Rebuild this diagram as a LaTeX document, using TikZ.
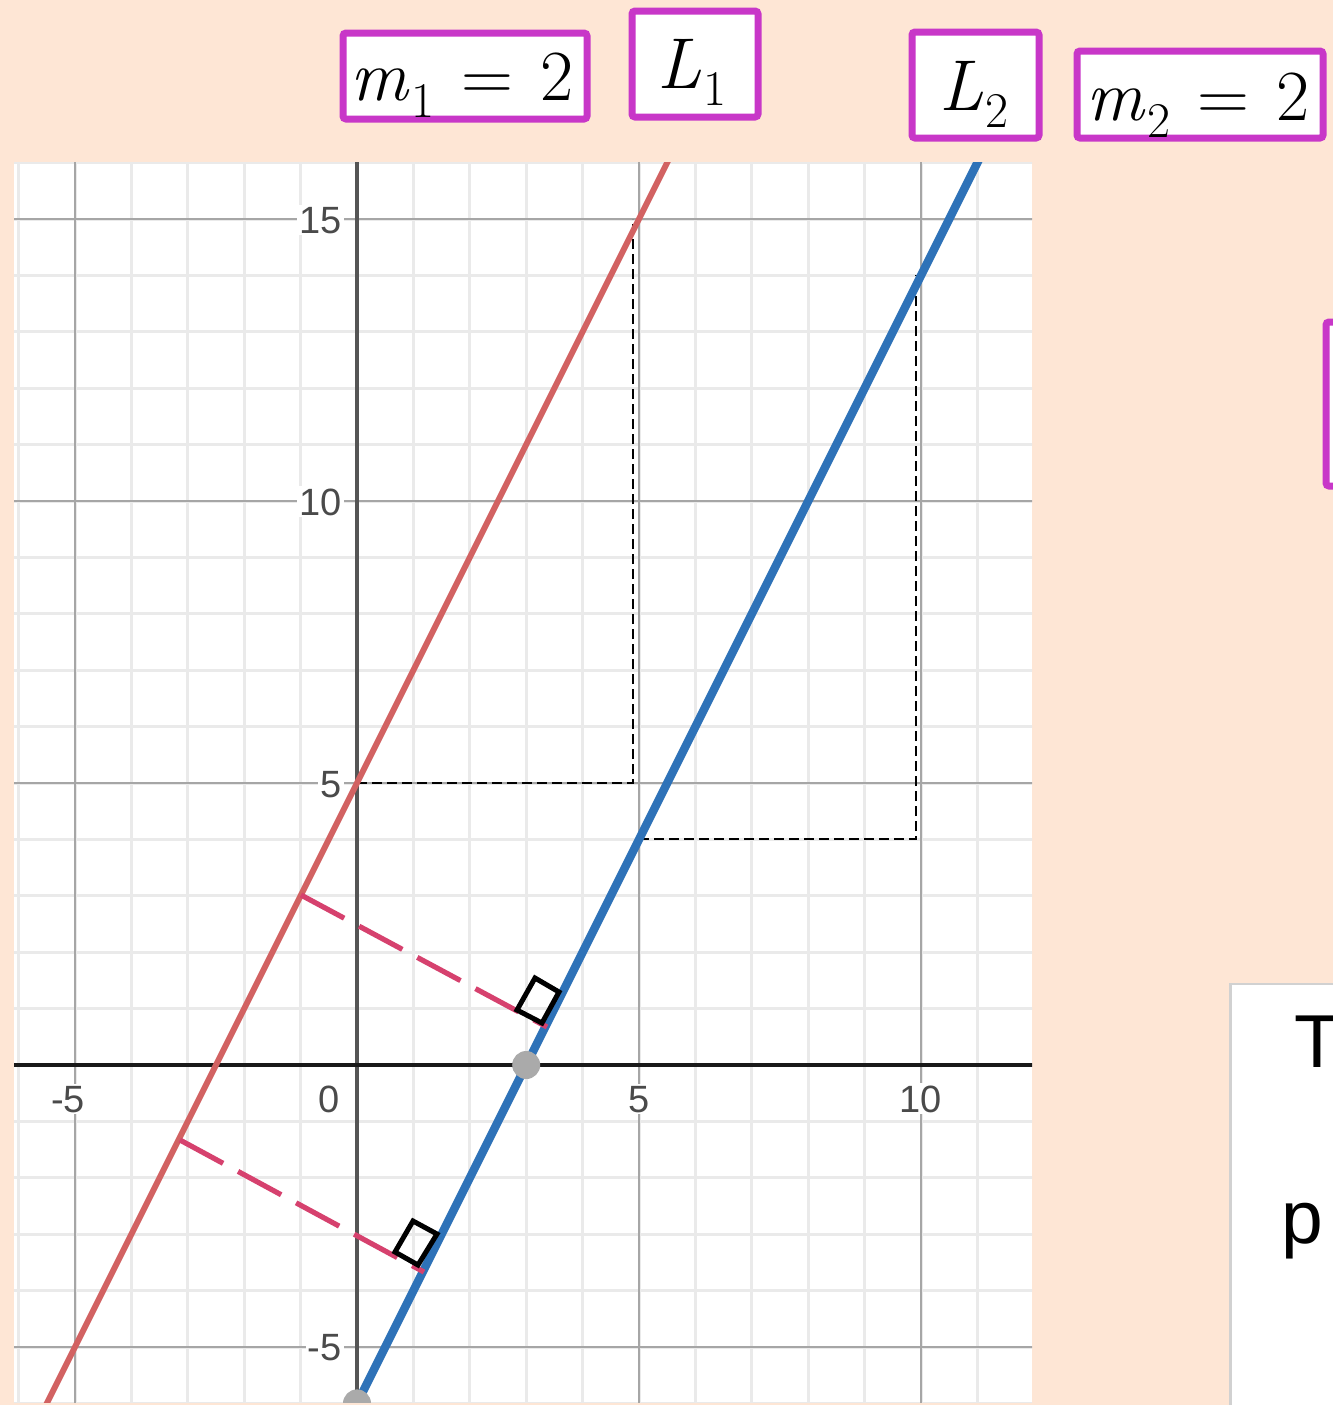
\documentclass[tikz,border=0pt]{standalone}
\usepackage{fontspec}
\newfontfamily\arialf{Liberation Sans}
\definecolor{bgpeach}{HTML}{FEE6D5}
\definecolor{boxpurple}{HTML}{C837C8}
\definecolor{lred}{HTML}{D26262}
\definecolor{lblue}{HTML}{2E72B8}
\definecolor{lpink}{HTML}{D6416E}
\definecolor{gridminor}{HTML}{EAEAEA}
\definecolor{gridmajor}{HTML}{A6A6A6}
\definecolor{ticktext}{HTML}{4A4A4A}
\definecolor{dotgray}{HTML}{AAAAAA}
\definecolor{yaxisgray}{HTML}{555555}
\newcommand{\symsub}[2]{\textit{#1}\kern0.03em\raisebox{-0.24em}{\fontsize{25}{28}\selectfont #2}}
\begin{document}
\begin{tikzpicture}[x=0.5pt,y=-0.5pt,
  minorgrid/.style={draw=gridminor, line width=1.5pt},
  majorgrid/.style={draw=gridmajor, line width=1.3pt},
  guide/.style={draw=black, line width=0.8pt, dash pattern=on 5pt off 2.5pt},
  lineone/.style={draw=lred, line width=3pt},
  linetwo/.style={draw=lblue, line width=4.2pt},
  perpdash/.style={draw=lpink, line width=2.6pt, dash pattern=on 24.5pt off 8.5pt},
  rightmark/.style={draw=black, line width=2.5pt, line join=miter},
  ptdot/.style={circle, fill=dotgray, minimum size=14pt, inner sep=0pt},
  ticklbl/.style={font=\arialf\fontsize{19}{22}\selectfont, text=ticktext, fill=white, inner sep=1pt},
  lblbox/.style={draw=boxpurple, line width=3.5pt, fill=white, rounded corners=1.5pt},
  mathlbl/.style={font=\fontsize{36}{40}\selectfont, inner sep=0pt, anchor=base},
  sidetext/.style={font=\arialf\fontsize{37.5}{42}\selectfont, inner sep=0pt, anchor=base west}
]
\useasboundingbox (0,0) rectangle (1333,1405);
\clip (0,0) rectangle (1333,1405);
\fill[bgpeach] (0,0) rectangle (1333,1405);
\fill[white] (14,162) rectangle (1032,1402);

\begin{scope}
  \clip (14,162) rectangle (1032,1402);
  \begin{scope}[shift={(357,1065)}, x=28.2pt, y=28.2pt]
    % minor grid
    \foreach \i in {-6,...,11} \draw[minorgrid] (\i,-7) -- (\i,17);
    \foreach \j in {-6,...,16} \draw[minorgrid] (-7,\j) -- (12,\j);
    % major grid
    \foreach \i in {-5,5,10} \draw[majorgrid] (\i,-7) -- (\i,17);
    \foreach \j in {-5,5,10,15} \draw[majorgrid] (-7,\j) -- (12,\j);
    % axes
    \draw[yaxisgray, line width=2pt] (0,-7) -- (0,17);
    \draw[black!90, line width=2pt] (-7,0) -- (12,0);
  \end{scope}

  % dashed guide lines (rise/run)
  \coordinate (g1a) at (357,783);
  \coordinate (g1b) at (633,783);
  \coordinate (g1c) at (633,219);
  \draw[guide] (g1a) -- (g1b) -- (g1c);
  \coordinate (g2a) at (639,839);
  \coordinate (g2b) at (916,839);
  \coordinate (g2c) at (916,275);
  \draw[guide] (g2a) -- (g2b) -- (g2c);

  % tick labels
  \node[ticklbl, anchor=base] (tx1) at (68,1112) {-5};
  \node[ticklbl, anchor=base] (tx2) at (329,1112) {0};
  \node[ticklbl, anchor=base] (tx3) at (639,1112) {5};
  \node[ticklbl, anchor=base] (tx4) at (921,1112) {10};
  \node[ticklbl, anchor=base east] (ty1) at (344,233) {15};
  \node[ticklbl, anchor=base east] (ty2) at (344,515) {10};
  \node[ticklbl, anchor=base east] (ty3) at (344,797) {5};
  \node[ticklbl, anchor=base east] (ty4) at (344,1360) {-5};

  \begin{scope}[shift={(357,1065)}, x=28.2pt, y=28.2pt]
    % L1 : y = 2x + 5
    \coordinate (L1a) at (-5.6,-6.2);
    \coordinate (L1b) at (5.6,16.2);
    \draw[lineone] (L1a) -- (L1b);
    % L2 : y = 2x - 6
    \coordinate (L2a) at (0,-6);
    \coordinate (L2b) at (11.2,16.4);
    \draw[linetwo] (L2a) -- (L2b);
    % points
    \node[ptdot] (xint) at (3,0) {};
    \node[ptdot] (yint) at (0,-6) {};
  \end{scope}

  % perpendicular distances
  \coordinate (p1a) at (301,895);
  \coordinate (p1b) at (547,1027);
  \draw[perpdash] (p1a) -- (p1b);
  \coordinate (p2a) at (180,1140);
  \coordinate (p2b) at (424,1272);
  \draw[perpdash] (p2a) -- (p2b);

  % right-angle marks
  \draw[rightmark] (517,1010) -- (535,978) -- (559,992) -- (542,1023) -- cycle;
  \draw[rightmark] (395,1252) -- (413,1221) -- (437,1234) -- (418,1265) -- cycle;
\end{scope}

% label boxes
\draw[lblbox] (343,33) rectangle (587,119);
\node[mathlbl] (m1) at (462,100) {\symsub{m}{1}\kern0.38em=\kern0.38em2};
\draw[lblbox] (632,11) rectangle (758,117);
\node[mathlbl] (l1) at (692,88) {\symsub{L}{1}};
\draw[lblbox] (912,32) rectangle (1039,138);
\node[mathlbl] (l2) at (974,110) {\symsub{L}{2}};
\draw[lblbox] (1077,51) rectangle (1323,138);
\node[mathlbl] (m2) at (1198,120) {\symsub{m}{2}\kern0.38em=\kern0.38em2};

% partial box at right edge
\draw[lblbox] (1326,322) rectangle (1420,486);

% white text panel at bottom right
\fill[black!18] (1229,983) rectangle (1400,1420);
\fill[white] (1232,985) rectangle (1400,1420);
\node[sidetext] (tt) at (1294,1067) {T};
\node[sidetext] (tp) at (1281,1243) {p};
\end{tikzpicture}
\end{document}
